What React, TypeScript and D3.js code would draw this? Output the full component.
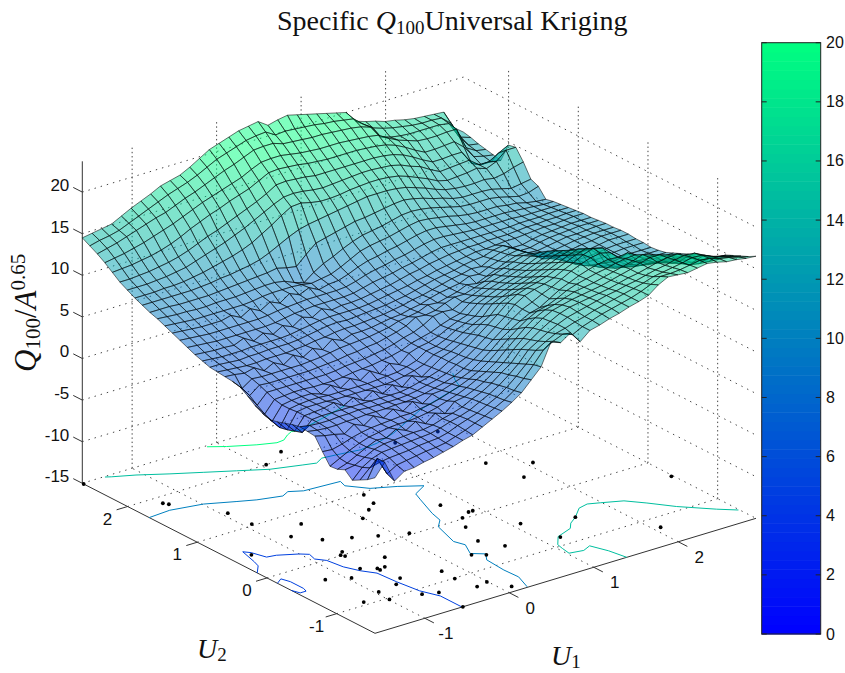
import * as d3 from "d3"

const u1Range = [-1.59, 2.92]
const u2Range = [-1.55, 2.65]
const zRange = [-15, 23.7]
const u1Ticks = [-1, 0, 1, 2]
const u2Ticks = [-1, 0, 1, 2]
const zTicks = [-15, -10, -5, 0, 5, 10, 15, 20]
const barTicks = [0, 2, 4, 6, 8, 10, 12, 14, 16, 18, 20]

// height of the surface, rows go along U2, columns along U1
const zRows = [
  [3.7,5.2,2.6,3.4,3.5,3.8,4.0,4.3,4.6,5.0,5.3,5.9,6.5,7.1,7.8,8.6,9.8,11.0,13.6,13.2,14.0,12.6,13.6,13.9,14.3,14.6,15.0,15.3,15.7,16.6,17.2,17.1,17.0,17.2,17.4,17.2,16.9,16.8,16.6,16.5],
  [3.0,5.2,3.0,3.7,3.9,4.1,4.3,4.4,4.6,5.0,5.4,5.9,6.4,7.0,7.6,8.4,9.5,10.8,12.2,12.9,13.4,13.0,13.6,14.0,14.4,14.7,15.0,15.3,15.7,16.2,16.8,16.8,16.9,17.1,17.3,17.2,16.8,16.6,16.3,16.0],
  [2.5,3.6,3.9,4.1,4.2,4.3,4.5,4.6,4.7,5.0,5.5,5.9,6.3,6.9,7.5,8.3,9.3,10.4,11.7,12.4,13.0,13.3,13.7,14.0,14.4,14.7,15.0,15.3,15.6,15.9,16.3,16.5,16.7,16.9,17.2,17.1,16.6,16.2,15.9,15.6],
  [2.0,3.2,3.9,4.3,4.4,4.5,4.6,4.7,4.8,5.1,5.5,5.8,6.2,6.8,7.4,8.1,9.0,10.0,11.3,12.0,12.7,13.3,13.8,14.1,14.4,14.7,15.0,15.2,15.5,15.7,16.0,16.3,16.5,16.8,17.0,16.9,16.3,15.8,15.5,15.2],
  [2.8,3.0,3.6,4.2,4.5,4.6,4.7,4.8,4.8,5.0,5.4,5.7,6.1,6.7,7.2,7.9,8.8,9.6,10.9,11.7,12.5,13.2,13.8,14.2,14.4,14.6,14.8,15.0,15.3,15.6,15.8,16.1,16.4,16.6,16.7,16.0,15.3,15.0,14.9,14.8],
  [2.4,2.8,3.4,4.0,4.5,4.4,5.1,4.6,5.3,4.7,5.6,5.2,6.3,6.5,7.0,7.6,8.4,9.2,10.4,11.4,12.3,13.1,13.7,14.0,14.3,14.5,14.7,14.9,15.2,15.5,15.8,16.2,16.5,16.5,16.1,15.0,14.2,14.0,13.9,13.8],
  [2.3,2.9,3.5,4.0,4.4,4.6,4.8,4.9,4.9,5.0,5.2,5.5,5.9,6.3,6.8,7.4,8.0,8.8,9.9,10.9,11.9,12.7,13.3,13.6,14.0,14.4,14.6,14.8,15.1,15.4,15.7,16.0,16.4,16.0,15.0,14.3,13.9,13.7,13.6,13.6],
  [3.6,3.5,3.8,4.2,4.5,4.7,4.8,4.9,5.0,5.0,5.2,5.4,5.7,6.1,6.5,7.0,7.6,8.4,9.4,10.4,11.3,12.1,12.7,13.0,13.5,14.1,14.5,14.8,15.1,15.3,15.6,15.8,15.9,15.0,14.3,13.9,13.6,13.5,13.4,13.4],
  [5.0,4.7,4.5,4.2,5.0,4.5,5.3,4.7,5.4,4.8,5.6,5.0,5.8,5.9,6.3,6.7,7.2,8.0,8.9,9.9,10.7,11.4,12.0,12.3,13.0,13.7,14.2,14.7,15.1,15.4,15.6,15.5,15.7,14.4,13.7,13.4,13.2,13.1,13.0,13.0],
  [5.1,4.9,4.8,4.8,4.9,4.9,5.0,5.0,5.0,5.1,5.1,5.2,5.4,5.7,6.0,6.4,7.0,7.7,8.5,9.4,10.3,11.2,12.0,12.5,13.1,13.6,14.2,14.8,15.3,15.7,15.9,15.6,14.6,13.5,13.0,12.8,12.7,12.6,12.6,12.6],
  [5.2,5.0,4.9,4.9,5.0,5.0,5.1,5.0,5.0,5.0,5.0,5.1,5.3,5.6,5.9,6.3,7.0,7.5,8.3,9.2,10.1,11.0,12.1,12.8,13.2,13.5,13.9,14.5,15.0,15.6,16.0,15.7,13.7,12.7,12.4,12.2,12.2,12.2,12.2,12.2],
  [5.0,3.7,4.9,5.0,5.0,5.0,5.0,5.0,5.0,5.0,5.0,5.0,5.2,5.5,5.8,6.2,6.9,7.4,8.1,9.0,9.9,10.8,11.8,12.5,12.9,13.2,13.6,14.1,14.6,15.1,15.5,15.2,13.1,12.1,11.9,11.8,11.8,11.8,11.8,11.8],
  [4.7,3.4,4.9,5.0,5.1,5.4,4.7,5.3,4.6,5.4,4.7,5.4,4.8,5.8,5.3,6.1,6.9,7.3,7.9,8.7,9.5,10.2,11.3,11.9,12.3,12.7,13.1,13.6,14.1,14.6,15.0,14.6,12.5,11.7,11.5,11.4,11.4,11.4,11.4,11.4],
  [4.4,3.1,4.9,5.1,5.1,5.1,5.0,5.0,5.0,5.0,5.0,5.0,5.1,5.3,5.6,6.0,6.8,7.1,7.7,8.4,9.0,9.6,10.8,11.3,11.8,12.2,12.6,13.1,13.6,14.1,14.4,13.9,11.9,11.3,11.2,11.2,11.2,11.2,11.2,11.2],
  [4.2,2.9,4.8,5.0,5.1,5.1,5.0,5.0,5.0,5.0,5.0,5.1,5.2,5.3,5.6,6.0,6.8,7.0,7.5,8.2,8.7,9.2,10.3,10.8,11.3,11.7,12.1,12.6,13.1,13.6,13.9,13.2,11.4,11.0,11.0,11.0,11.1,11.1,11.1,11.1],
  [4.5,3.2,4.8,5.0,5.1,5.1,4.7,5.4,4.7,5.5,4.9,5.7,5.0,5.9,5.4,6.4,6.8,7.0,7.4,8.0,8.5,8.9,9.9,10.4,10.9,11.3,11.7,12.1,12.6,13.1,13.4,12.6,11.1,10.9,10.9,10.9,11.1,11.2,11.2,11.2],
  [5.0,3.6,5.0,5.1,5.2,5.2,5.1,5.1,5.1,5.2,5.4,5.5,5.6,5.8,6.0,6.3,6.8,7.1,7.4,7.9,8.3,8.6,9.5,10.0,10.5,10.9,11.3,11.7,12.1,12.6,12.9,11.9,10.9,10.8,10.8,10.9,11.1,11.2,11.2,11.2],
  [5.7,4.2,5.4,5.4,5.4,5.4,5.4,5.4,5.4,5.5,5.7,5.8,5.9,6.1,6.3,6.6,7.0,7.3,7.8,8.5,8.7,8.6,9.2,9.6,10.1,10.6,10.9,11.3,11.7,12.2,12.3,11.2,10.7,10.7,10.8,10.9,11.1,11.3,11.3,11.3],
  [6.3,4.9,5.8,5.7,5.7,5.7,5.7,5.7,5.8,5.9,6.0,6.2,6.3,6.5,6.6,6.9,7.2,7.6,8.3,8.2,8.4,8.9,9.3,9.3,9.7,10.1,10.6,11.0,11.4,11.8,11.7,10.7,10.6,10.7,10.8,11.0,11.1,11.3,11.3,11.3],
  [6.5,5.3,6.1,6.0,6.0,6.0,6.0,6.0,6.1,6.2,6.4,6.6,6.7,6.8,6.9,7.1,7.3,7.7,7.9,8.1,8.6,8.5,8.8,9.1,9.6,9.4,9.9,10.4,10.9,11.3,11.4,10.6,10.5,10.6,10.8,11.0,11.1,11.2,11.2,11.2],
  [6.6,6.5,6.3,6.6,5.9,6.5,5.9,6.7,6.1,6.8,6.3,7.2,6.7,7.1,7.1,7.2,7.4,7.6,7.7,8.0,8.2,8.6,8.9,9.1,9.3,9.8,9.7,10.2,10.6,11.0,11.2,10.5,10.4,10.6,10.8,11.0,11.0,11.1,11.2,11.2],
  [6.7,6.6,6.5,6.4,6.4,6.5,6.5,6.5,6.6,6.7,6.9,7.0,7.2,7.3,7.3,7.4,7.5,7.6,7.8,8.0,8.3,8.5,8.8,9.1,9.4,9.6,9.9,9.8,10.4,10.8,11.0,10.3,10.3,10.6,10.8,10.9,11.0,11.1,11.1,11.1],
  [6.8,6.8,6.7,6.6,6.7,6.7,6.8,6.8,6.8,6.9,7.1,7.3,7.5,7.6,7.5,7.6,7.7,7.8,7.9,8.1,8.3,8.6,8.9,9.2,9.4,9.6,9.9,10.1,10.2,10.6,10.8,10.2,10.2,10.5,10.7,10.8,10.9,11.0,11.0,11.0],
  [7.1,7.0,6.9,6.9,6.9,7.0,7.0,7.0,7.0,7.1,7.3,7.5,7.7,7.8,7.8,7.8,7.8,7.9,8.1,8.3,8.5,8.7,9.0,9.2,9.5,9.7,9.9,10.1,10.3,10.3,10.4,10.5,10.5,10.6,10.7,10.8,10.8,10.9,11.0,11.0],
  [7.4,7.3,7.2,7.2,7.1,7.6,6.9,7.5,7.0,7.7,7.2,8.0,7.6,8.3,7.8,8.0,8.0,8.1,8.3,8.5,8.7,9.0,9.3,9.5,9.8,10.0,10.2,10.3,10.4,10.4,10.5,10.5,10.5,10.6,10.7,10.7,10.8,10.8,10.9,10.9],
  [7.8,7.7,7.6,7.5,7.5,7.5,7.5,7.5,7.5,7.6,7.8,8.0,8.1,8.2,8.2,8.2,8.2,8.3,8.6,8.9,9.1,9.3,9.6,9.8,10.1,10.4,10.6,10.6,10.6,10.6,10.6,10.6,10.6,10.6,10.7,10.7,10.7,10.8,10.8,10.8],
  [8.2,8.1,8.0,7.9,7.9,7.9,7.9,7.9,7.9,8.0,8.2,8.3,8.4,8.5,8.5,8.5,8.5,8.6,8.9,9.3,9.6,9.8,10.1,10.3,10.6,10.9,11.1,11.1,11.0,10.9,10.8,10.8,10.8,10.8,10.8,10.7,10.7,10.7,10.7,10.7],
  [8.6,8.5,8.4,8.3,8.3,8.3,8.6,8.0,8.7,8.1,8.8,8.3,9.1,8.6,9.1,8.5,8.8,8.9,9.3,9.8,10.2,10.4,10.7,10.9,11.2,11.5,11.7,11.7,11.5,11.3,11.1,11.0,11.0,11.0,11.0,10.9,10.8,10.7,10.6,10.6],
  [9.0,8.9,8.8,8.7,8.7,8.7,8.7,8.7,8.7,8.8,9.0,9.1,9.1,9.1,9.0,8.8,9.0,9.2,9.7,10.3,10.9,11.2,11.4,11.6,11.9,12.2,12.4,12.3,12.1,11.9,11.6,11.4,11.3,11.3,11.3,11.1,11.0,10.7,10.5,10.4],
  [9.4,9.3,9.2,9.2,9.1,9.1,9.2,9.2,9.2,9.3,9.4,9.5,9.5,9.3,8.8,8.4,9.3,10.0,10.5,11.1,11.6,12.0,12.2,12.4,12.7,13.0,13.1,13.0,12.8,12.5,12.2,11.9,11.8,11.8,11.8,11.6,11.3,11.0,11.1,11.5],
  [9.7,9.7,9.7,9.6,9.6,9.6,9.6,9.7,9.8,9.9,10.0,10.1,10.2,10.4,10.1,9.9,11.0,12.0,12.3,12.6,12.9,13.2,13.3,13.5,13.7,13.9,14.0,13.8,13.5,13.1,12.8,12.4,12.2,12.2,12.2,12.1,11.8,11.5,11.7,11.9],
  [10.1,10.1,10.1,10.1,10.1,10.1,10.2,10.3,10.5,10.6,10.8,11.0,11.3,11.8,12.4,13.0,13.5,13.8,14.0,14.2,14.4,14.6,14.8,15.0,15.0,15.0,14.9,14.7,14.3,13.9,13.4,13.0,12.8,12.7,12.7,12.8,12.6,12.8,13.2,13.5],
  [10.5,10.5,10.5,10.6,10.6,10.7,10.9,11.1,11.4,11.7,12.0,12.4,12.9,13.6,14.3,15.1,15.8,15.9,15.6,15.4,15.4,15.5,15.7,15.8,15.9,15.9,15.8,15.6,15.2,14.7,14.2,13.6,13.3,13.4,13.5,13.7,13.3,13.8,14.8,14.8],
  [11.0,11.0,11.0,11.1,11.2,11.4,11.6,12.0,12.4,12.8,13.2,13.7,14.2,14.8,15.4,16.0,16.5,16.6,16.5,16.3,16.2,16.3,16.4,16.5,16.6,16.6,16.5,16.4,16.1,15.6,15.2,14.5,13.9,14.0,14.1,14.2,13.3,13.3,14.0,14.6],
  [11.5,11.5,11.6,11.7,11.9,12.1,12.4,12.8,13.3,13.8,14.2,14.7,15.2,15.7,16.2,16.8,17.5,17.6,17.5,17.4,17.2,17.2,17.2,17.2,17.2,17.2,17.2,17.1,16.9,16.5,15.9,15.2,14.6,14.6,14.7,14.7,13.0,12.5,12.5,12.3],
  [12.2,12.3,12.4,12.6,12.8,13.1,13.5,14.0,14.6,15.1,15.6,16.0,16.5,16.9,17.3,17.9,18.5,18.6,18.5,18.4,18.2,18.1,18.0,18.0,18.0,18.0,17.9,17.8,17.6,17.2,16.6,15.9,15.3,15.3,15.4,15.5,14.5,13.0,12.7,12.5],
  [12.9,13.1,13.3,13.6,13.9,14.3,14.7,15.1,15.6,16.1,16.6,17.0,17.4,17.8,18.2,18.8,19.3,19.4,19.4,19.2,19.0,18.9,18.8,18.8,18.8,18.7,18.6,18.5,18.3,17.6,17.0,16.6,16.2,16.1,16.1,16.2,16.2,13.6,12.9,12.7],
  [13.5,13.8,14.1,14.5,14.9,15.3,15.7,16.0,16.5,17.0,17.4,17.9,18.4,18.9,19.3,19.8,20.3,20.4,20.4,20.0,19.9,19.8,19.7,19.7,19.6,19.5,19.4,19.2,18.8,17.3,16.9,16.7,16.6,16.6,16.6,16.6,16.4,14.5,13.1,12.9],
  [14.0,14.3,14.5,14.8,15.3,15.8,16.3,16.8,17.3,17.7,18.1,18.6,19.2,19.8,20.2,20.6,21.0,21.2,21.3,20.6,20.7,20.6,20.5,20.4,20.2,20.1,19.9,19.7,18.7,17.9,17.5,17.2,17.0,16.8,16.7,16.7,16.6,15.6,13.6,13.2],
  [14.5,14.7,14.9,15.1,15.7,16.3,16.8,17.3,17.9,18.2,18.5,19.1,19.8,20.5,20.9,21.3,21.7,21.9,22.1,21.3,21.6,21.8,21.5,21.2,20.9,20.6,20.3,20.0,18.6,18.2,17.9,17.5,17.3,17.0,16.8,16.7,16.6,16.5,14.3,13.4],
]

// station locations on the floor [U1, U2]
const stations = [
  [0.35,2.15],[0.05,2.0],[0.34,0.95],[0.29,0.75],[0.16,0.66],[-0.01,0.54],[-1.28,1.87],[-1.25,1.82],[-0.94,1.35],[-0.92,1.03],
  [-0.55,0.77],[-0.81,0.6],[-0.62,0.38],[-0.37,0.26],[-0.15,0.15],[0.12,0.03],[-0.65,0.06],[-0.71,0.01],[-0.69,-0.03],[-0.41,-0.26],
  [-1.37,0.49],[-0.76,-0.33],[-0.63,-0.42],[-0.63,-0.46],[-0.55,-0.43],[-1.18,-0.34],[-0.96,-0.45],[-0.6,-0.71],[-0.72,-0.8],[-0.96,-0.84],
  [-0.99,-1.03],[-1.22,-0.94],[1.71,0.86],[2.07,0.62],[1.79,0.41],[2.9,-0.36],[0.76,0.36],[0.87,0.09],[0.92,0.09],[0.74,0.02],
  [1.09,-0.39],[0.63,-0.16],[0.52,-0.47],[0.65,-0.7],[0.27,-0.68],[0.38,-0.76],[1.59,-0.57],[1.19,-0.84],[2.08,-1.2],[-0.19,-0.81],
  [-0.2,-1.01],[-0.01,-1.24],[-0.15,-1.27],[0.11,-1.45],[-0.67,-1.11],[-0.52,-1.17],[-0.55,-1.55],[1.33,1.7],[1.81,1.67],[-1.59,2.63],
]

// contour traces on the floor, one list per piece
const contour20 = [[-0.13,2.63],[0.02,2.53],[0.27,2.4],[0.45,2.33],[0.54,2.34],[0.64,2.41],[0.72,2.45],[0.81,2.43],[1.15,2.52],[1.49,2.62]]
const contour15a = [[-1.33,2.64],[-1.28,2.61],[-1.07,2.51],[-0.8,2.35],[-0.53,2.2],[-0.26,2.05],[0.01,1.9],[0.32,1.8],[0.45,1.76],[0.56,1.82],[0.72,1.8],[0.97,1.76],[1.19,1.79],[1.46,1.88],[2.0,2.15],[2.49,2.31],[2.63,2.35],[2.69,2.49],[2.77,2.62]]
const contour15b = [[1.39,-1.55],[1.35,-1.34],[1.28,-1.15],[1.17,-1.2],[1.02,-1.17],[1.04,-1.05],[1.06,-0.96],[1.18,-0.82],[1.39,-0.74],[1.47,-0.65],[1.59,-0.57],[1.75,-0.43],[1.87,-0.4],[1.99,-0.45],[2.19,-0.54],[2.33,-0.7],[2.5,-0.92],[2.76,-1.18],[2.91,-1.31]]
const contour10 = [[-1.59,1.69],[-1.33,1.71],[-0.99,1.64],[-0.71,1.51],[-0.53,1.43],[-0.28,1.36],[-0.18,1.41],[-0.05,1.34],[0.36,1.31],[0.33,1.21],[0.48,1.03],[0.71,0.92],[0.92,0.79],[0.74,0.69],[0.69,0.56],[0.58,0.26],[0.54,0.1],[0.43,-0.01],[0.33,-0.35],[0.37,-0.47],[0.28,-0.65],[0.39,-0.74],[0.31,-0.85],[0.29,-1.12],[0.3,-1.32],[0.22,-1.54]]
const contour5a = [[-1.59,0.14],[-1.48,0.26],[-1.45,0.35],[-1.39,0.59],[-1.34,0.53],[-1.29,0.37],[-1.19,0.35],[-1.0,0.25],[-0.93,0.19],[-0.96,0.08],[-0.89,-0.01],[-0.86,-0.21],[-0.79,-0.37],[-0.7,-0.5],[-0.68,-0.76],[-0.64,-1.04],[-0.56,-1.24],[-0.56,-1.54]]
const contour5b = [[-1.59,-0.15],[-1.5,-0.09],[-1.47,-0.19],[-1.47,-0.38],[-1.49,-0.44],[-1.56,-0.44],[-1.59,-0.35]]

const contourSets = [
  { level: 20, lines: [contour20] },
  { level: 15, lines: [contour15a, contour15b] },
  { level: 10, lines: [contour10] },
  { level: 5, lines: [contour5a, contour5b] },
]

const floorU1 = d3.scaleLinear().domain(u1Range).range([0, 381])
const floorU2 = d3.scaleLinear().domain(u2Range).range([0, 292.7])
const rise = d3.scaleLinear().domain([-15, 20]).range([0, 291.2])
const winter = (v: number) => {
  const t = Math.max(0, Math.min(1, v / 20))
  return `rgb(0,${Math.round(t * 255)},${Math.round(255 - t * 127.5)})`
}

// orthographic view, front corner sits at (375, 633.3)
const project = (u1: number, u2: number, z: number) => {
  const p = floorU1(u1), q = floorU2(u2)
  return [375 + p - q, 633.3 - p * 0.3018 - q * 0.5125 - rise(z)]
}
const floorY = -15
const path = (pts: number[][]) => "M" + pts.map((p) => p.map((n) => n.toFixed(2)).join(",")).join("L")

const u1Nodes = d3.scaleLinear().domain([0, 39]).range(u1Range)
const u2Nodes = d3.scaleLinear().domain([0, 39]).range(u2Range)

const cells: { d: string; z: number; depth: number }[] = []
for (let j = 0; j < zRows.length - 1; j++) {
  for (let i = 0; i < 39; i++) {
    const corners = [[i, j], [i + 1, j], [i + 1, j + 1], [i, j + 1]]
    const pts = corners.map(([a, b]) => project(u1Nodes(a), u2Nodes(b), zRows[b][a]))
    cells.push({
      d: path(pts) + "Z",
      z: d3.mean(corners, ([a, b]) => zRows[b][a]) as number,
      depth: i + j,
    })
  }
}
cells.sort((a, b) => b.depth - a.depth)

const serif = "'Liberation Serif', serif"
const sans = "'Liberation Sans', sans-serif"
const dotted = { stroke: "#444", strokeWidth: 1, fill: "none" }

const barScale = d3.scaleLinear().domain([0, 20]).range([634, 42.7])

export default function App() {
  const [u1a, u1b] = u1Range
  const [u2a, u2b] = u2Range
  const [zA, zB] = zRange
  return (
    <svg width={845} height={673} style={{ position: "absolute", left: 0, top: 0, background: "#fff" }}>
      {/* back walls */}
      <g {...dotted} strokeDasharray="1.4 5">
        {zTicks.map((z) => (
          <path key={z} d={path([project(u1a, u2b, z), project(u1b, u2b, z), project(u1b, u2a, z)])} />
        ))}
        {u1Ticks.map((u) => (
          <path key={u} d={path([project(u, u2a, floorY), project(u, u2b, floorY)])} />
        ))}
        {u2Ticks.map((u) => (
          <path key={u} d={path([project(u1a, u, floorY), project(u1b, u, floorY)])} />
        ))}
      </g>
      <g {...dotted} strokeDasharray="1.4 2.8">
        {u1Ticks.map((u) => (
          <path key={u} d={path([project(u, u2b, floorY), project(u, u2b, zB)])} />
        ))}
        {u2Ticks.map((u) => (
          <path key={u} d={path([project(u1b, u, floorY), project(u1b, u, zB)])} />
        ))}
      </g>

      {/* axis box */}
      <g stroke="#333" strokeWidth={1} fill="none">
        <path d={path([project(u1a, u2b, zB), project(u1a, u2b, floorY), project(u1a, u2a, floorY), project(u1b, u2a, floorY)])} />
        {zTicks.map((z) => (
          <path key={z} d={path([project(u1a, u2b, z), project(u1a, u2b + 0.13, z)])} />
        ))}
        {u1Ticks.map((u) => (
          <path key={u} d={path([project(u, u2a, floorY), project(u, u2a - 0.13, floorY)])} />
        ))}
        {u2Ticks.map((u) => (
          <path key={u} d={path([project(u1a, u, floorY), project(u1a - 0.13, u, floorY)])} />
        ))}
      </g>
      <g fontFamily={sans} fontSize={17} fill="#111">
        {zTicks.map((z) => {
          const [x, y] = project(u1a, u2b, z)
          return <text key={z} x={x - 13} y={y - 1} textAnchor="end">{z}</text>
        })}
        {u1Ticks.map((u) => {
          const [x, y] = project(u, u2a, floorY)
          return <text key={u} x={x + 21} y={y + 21} textAnchor="middle">{u}</text>
        })}
        {u2Ticks.map((u) => {
          const [x, y] = project(u1a, u, floorY)
          return <text key={u} x={x - 20} y={y + 18} textAnchor="middle">{u}</text>
        })}
      </g>

      {/* floor contours and stations */}
      <g fill="none" strokeWidth={1}>
        {contourSets.map((set) =>
          set.lines.map((line, n) => (
            <path key={set.level + "-" + n} stroke={winter(set.level)} d={path(line.map(([a, b]) => project(a, b, floorY)))} />
          ))
        )}
      </g>
      {stations.map(([a, b], n) => {
        const [x, y] = project(a, b, floorY)
        return <circle key={n} cx={x} cy={y} r={1.9} fill="#000" />
      })}

      {/* surface */}
      <g strokeLinejoin="round">
        {cells.map((c, n) => (
          <path key={n} d={c.d} fill={winter(c.z)} fillOpacity={0.5} stroke="#000" strokeOpacity={0.68} strokeWidth={0.8} />
        ))}
      </g>

      {/* colorbar */}
      {d3.range(64).map((n) => {
        const lo = (n * 20) / 64, hi = ((n + 1) * 20) / 64
        return <rect key={n} x={761.7} width={59} y={barScale(hi)} height={barScale(lo) - barScale(hi) + 0.5} fill={winter(lo + 0.15)} />
      })}
      <rect x={761.7} y={42.7} width={59} height={591.3} fill="none" stroke="#222" strokeWidth={1} />
      {barTicks.map((t) => (
        <g key={t} stroke="#222">
          <line x1={761.7} x2={766.7} y1={barScale(t)} y2={barScale(t)} />
          <line x1={815.7} x2={820.7} y1={barScale(t)} y2={barScale(t)} />
        </g>
      ))}
      <g fontFamily={sans} fontSize={16} fill="#111">
        {barTicks.map((t) => (
          <text key={t} x={826} y={barScale(t) + 5.5}>{t}</text>
        ))}
      </g>

      {/* math labels */}
      <text x={277} y={30} fontFamily={serif} fontSize={28} fill="#111">
        Specific <tspan fontStyle="italic">Q</tspan>
        <tspan fontSize={19} dy={4}>100</tspan>
        <tspan dy={-4}>Universal Kriging</tspan>
      </text>
      <text transform="translate(36,372) rotate(-90)" fontFamily={serif} fontSize={31} fill="#111">
        <tspan fontStyle="italic">Q</tspan>
        <tspan fontSize={21} dy={4}>100</tspan>
        <tspan dy={-4}>/</tspan>
        <tspan fontStyle="italic">A</tspan>
        <tspan fontSize={21} dy={-11}>0.65</tspan>
      </text>
      <text x={551} y={665} fontFamily={serif} fontSize={28} fontStyle="italic" fill="#111">
        U<tspan fontSize={19} dy={3} fontStyle="normal">1</tspan>
      </text>
      <text x={197} y={658} fontFamily={serif} fontSize={28} fontStyle="italic" fill="#111">
        U<tspan fontSize={19} dy={3} fontStyle="normal">2</tspan>
      </text>
    </svg>
  )
}
